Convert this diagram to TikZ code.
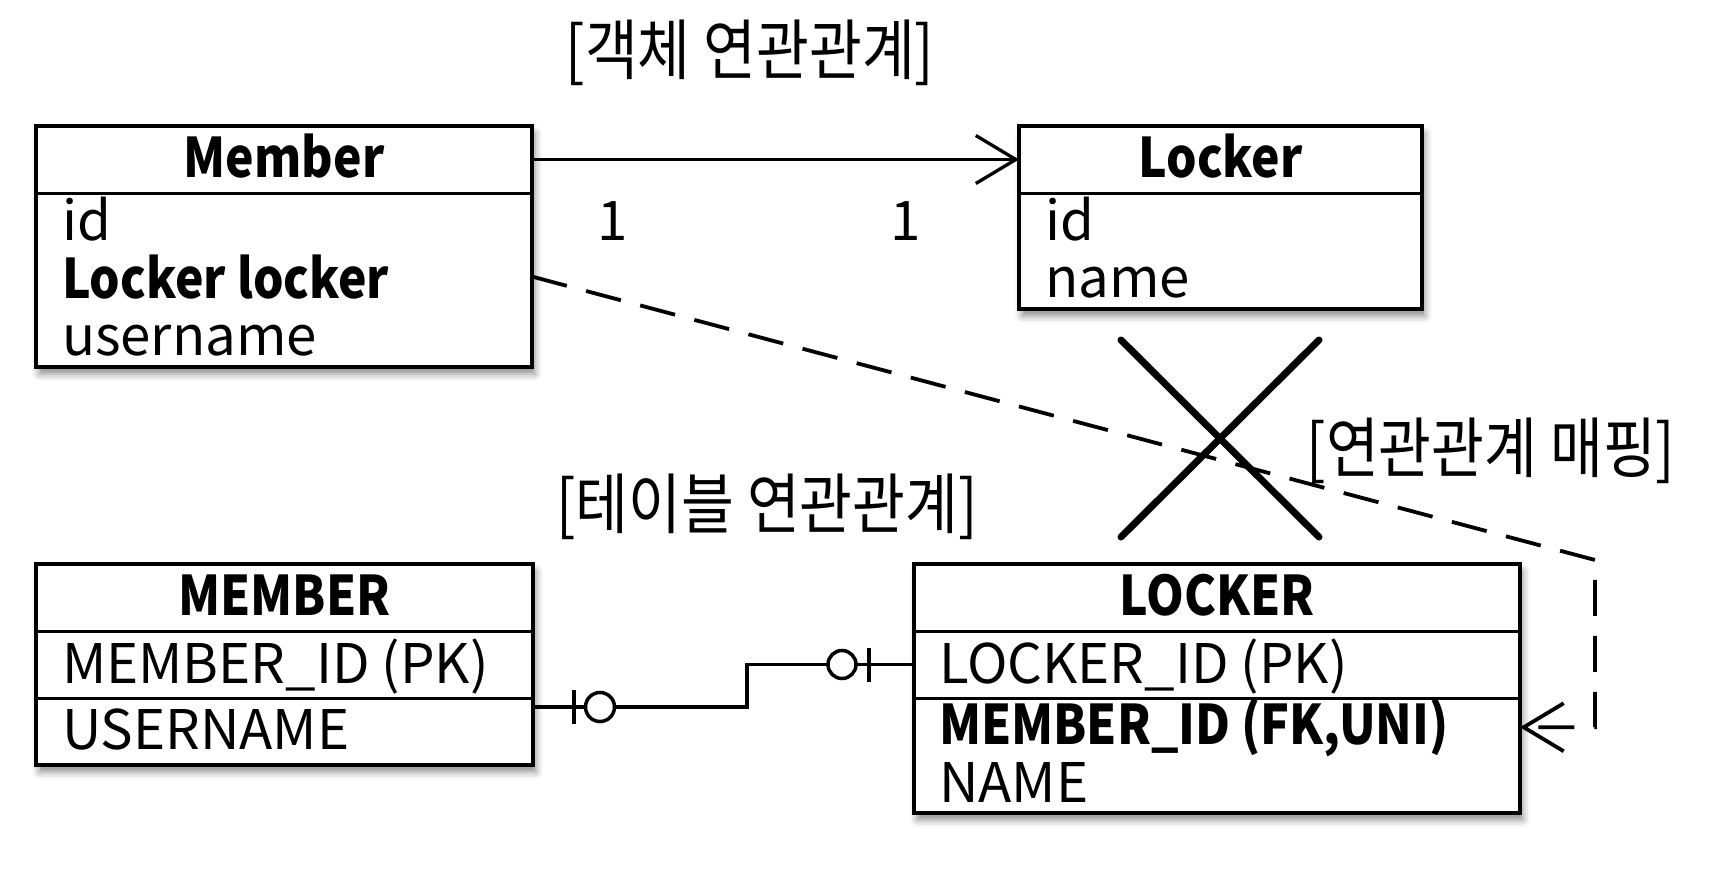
\documentclass[tikz,border=0pt]{standalone}
\usepackage{fontspec}
\setmainfont{Noto Sans CJK KR}[BoldFeatures={FakeStretch=0.88}]
\newfontfamily\kr{Noto Sans CJK KR}[FakeStretch=0.87]
\usetikzlibrary{arrows.meta,shadows.blur,calc}
\begin{document}
\begin{tikzpicture}[x=1pt,y=-1pt,
  every node/.style={inner sep=0pt, outer sep=0pt},
  font=\fontsize{54.6}{60}\selectfont,
  box/.style={draw=black, line width=3.5pt, fill=white, anchor=north west,
    blur shadow={shadow xshift=3pt, shadow yshift=-7pt, shadow blur radius=7pt, shadow opacity=45}},
  hdr/.style={anchor=north west},
  sepline/.style={line width=3pt},
  lbl/.style={anchor=base west},
  ttl/.style={anchor=base},
  conn/.style={line width=3.3pt},
  dashconn/.style={line width=3.8pt, dash pattern=on 36pt off 20pt},
  openarrow/.style={-{Straight Barb[length=40pt,width=48pt]}},
  xline/.style={line width=7pt, line cap=round},
  kor/.style={font=\kr\fontsize{66}{72}\selectfont},
  er/.style={line width=3.5pt}
]
\useasboundingbox (0,0) rectangle (1730,880);

% ---- Member class ----
\node[box, minimum width=496pt, minimum height=241pt] (C) at (36,126) {};
\node[hdr, minimum width=496pt, minimum height=67pt] (Ch) at (36,126) {};
\draw[sepline] (Ch.south west) -- (Ch.south east);
\node[ttl] (Ct) at (284,178) {\bfseries Member};
\node[lbl] (C1) at (62,240) {id};
\node[lbl] (C2) at (62,298) {\bfseries Locker locker};
\node[lbl] (C3) at (62,355) {username};

% ---- Locker class ----
\node[box, minimum width=403pt, minimum height=183pt] (K) at (1019,126) {};
\node[hdr, minimum width=403pt, minimum height=67pt] (Kh) at (1019,126) {};
\draw[sepline] (Kh.south west) -- (Kh.south east);
\node[ttl] (Kt) at (1220.5,178) {\bfseries Locker};
\node[lbl] (K1) at (1045,240) {id};
\node[lbl] (K2) at (1045,297) {name};

% ---- MEMBER table ----
\node[box, minimum width=497pt, minimum height=201pt] (M) at (36,564) {};
\node[hdr, minimum width=497pt, minimum height=67pt] (Mh) at (36,564) {};
\node[hdr, minimum width=497pt, minimum height=67pt] (Mr1) at (Mh.south west) {};
\node[hdr, minimum width=497pt, minimum height=67pt] (Mr2) at (Mr1.south west) {};
\draw[sepline] (Mh.south west) -- (Mh.south east);
\draw[sepline] (Mr1.south west) -- (Mr1.south east);
\node[ttl] (Mt) at (284.5,615) {\bfseries MEMBER};
\node[lbl] (M1) at (62,683) {MEMBER\_ID (PK)};
\node[lbl] (M2) at (62,749) {USERNAME};

% ---- LOCKER table ----
\node[box, minimum width=606pt, minimum height=249pt] (L) at (914,564) {};
\node[hdr, minimum width=606pt, minimum height=67pt] (Lh) at (914,564) {};
\node[hdr, minimum width=606pt, minimum height=67pt] (Lr1) at (Lh.south west) {};
\draw[sepline] (Lh.south west) -- (Lh.south east);
\draw[sepline] (Lr1.south west) -- (Lr1.south east);
\node[ttl] (Lt) at (1217,615) {\bfseries LOCKER};
\node[lbl] (L1) at (939,683) {LOCKER\_ID (PK)};
\node[lbl] (L2) at (939,744) {\bfseries MEMBER\_ID (FK,UNI)};
\node[lbl] (L3) at (939,802) {NAME};

% ---- titles ----
\node[kor] (t1) at (750,53) {[객체 연관관계]};
\node[kor] (t2) at (767,507) {[테이블 연관관계]};
\node[kor] (t3) at (1491,451) {[연관관계 매핑]};

% ---- object association ----
\draw[conn, openarrow] (Ch.east) -- (Kh.west);
\node[ttl] (n1) at (613,240) {1};
\node[ttl] (n2) at (906,240) {1};

% ---- mapping (dashed) ----
\coordinate (bend) at (1595,560);
\draw[dashconn, openarrow] (C2.center -| C.east) -- (bend) -- (bend |- L2.center) -- (L2.center -| L.east);

% ---- cross ----
\draw[xline] (1121,340) -- (1319,537);
\draw[xline] (1319,340) -- (1121,537);

% ---- ER relation ----
\coordinate (erL) at ([yshift=-9pt]Mr2.north east);
\coordinate (stepx) at (747,0);
\draw[er] (erL) -| (stepx |- Lr1.west) -- (Lr1.west);
\draw[er] ([xshift=41pt,yshift=17pt]erL) -- ([xshift=41pt,yshift=-17pt]erL);
\draw[er, fill=white] ([xshift=67pt]erL) circle[radius=14.5pt];
\draw[er] ([xshift=-45pt,yshift=17pt]Lr1.west) -- ([xshift=-45pt,yshift=-17pt]Lr1.west);
\draw[er, fill=white] ([xshift=-72pt]Lr1.west) circle[radius=14pt];
\end{tikzpicture}
\end{document}
